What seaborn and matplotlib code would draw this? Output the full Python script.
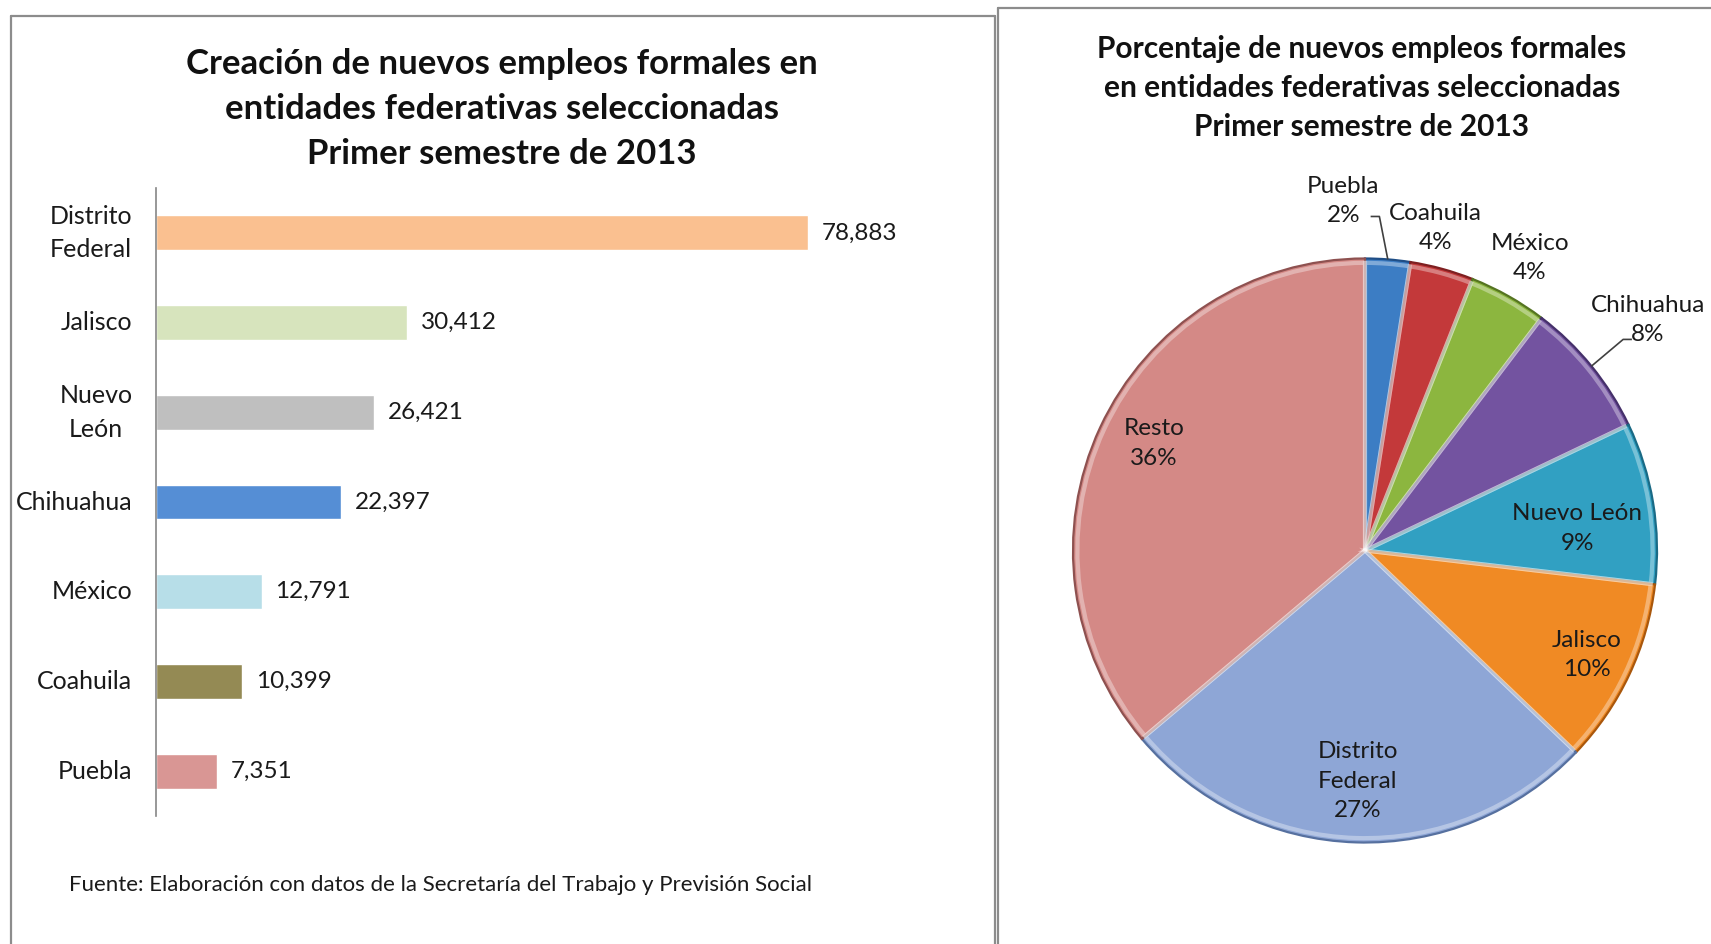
import numpy as np
import matplotlib
matplotlib.use("Agg")
import matplotlib.pyplot as plt
import seaborn as sns
from matplotlib.lines import Line2D

# -----------------------------------------------------------------------------
# Data
# -----------------------------------------------------------------------------
states = ["Distrito\nFederal", "Jalisco", "Nuevo\nLeón", "Chihuahua",
          "México", "Coahuila", "Puebla"]
jobs = [78883, 30412, 26421, 22397, 12791, 10399, 7351]
bar_colors = ["#FAC090", "#D7E4BD", "#BFBFBF", "#558ED5",
              "#B7DEE8", "#948A54", "#D99694"]

pie_names = ["Puebla", "Coahuila", "México", "Chihuahua", "Nuevo León",
             "Jalisco", "Distrito\nFederal", "Resto"]
pie_values = [7351, 10399, 12791, 22397, 26421, 30412, 78883, 106846]
pie_colors = ["#3C7DC4", "#C3393A", "#8CB63F", "#7353A0", "#31A0C2",
              "#F08A24", "#8EA6D6", "#D48986"]
pie_edges = ["#1F4E86", "#7E1F20", "#557421", "#45306A", "#1A6A85",
             "#A9570C", "#56709F", "#8E5150"]

title_left = "Creación de nuevos empleos formales en\nentidades federativas seleccionadas\nPrimer semestre de 2013"
title_right = "Porcentaje de nuevos empleos formales\nen entidades federativas seleccionadas\nPrimer semestre de 2013"
source = "Fuente: Elaboración con datos de la Secretaría del Trabajo y Previsión Social"

# -----------------------------------------------------------------------------
# Figure
# -----------------------------------------------------------------------------
sns.set_style("white")
plt.rcParams["font.family"] = ["Lato", "DejaVu Sans"]

W, H = 1711, 944
fig = plt.figure(figsize=(W / 100, H / 100), dpi=100)


def fx(px):
    return px / W


def fy(py):
    return 1 - py / H


# panel frames
frame_kw = dict(color="#8C8C8C", lw=1.6, transform=fig.transFigure)
fig.add_artist(Line2D([fx(11), fx(11)], [fy(16), 0], **frame_kw))
fig.add_artist(Line2D([fx(11), fx(995)], [fy(16), fy(16)], **frame_kw))
fig.add_artist(Line2D([fx(995), fx(995)], [fy(16), 0], **frame_kw))
fig.add_artist(Line2D([fx(998), fx(998)], [fy(8), 0], **frame_kw))
fig.add_artist(Line2D([fx(998), 1], [fy(8), fy(8)], **frame_kw))

# -----------------------------------------------------------------------------
# Left: horizontal bar chart
# -----------------------------------------------------------------------------
ax = fig.add_axes([fx(156), fy(816), fx(826), (816 - 188) / H])
sns.barplot(x=jobs, y=states, hue=states, palette=bar_colors, legend=False,
            orient="h", width=0.39, saturation=1, ax=ax)
ax.set_xlim(0, 100000)
ax.set_ylim(6.5, -0.5)
ax.set_xlabel("")
ax.set_ylabel("")
ax.set_xticks([])
for s in ["top", "right", "bottom"]:
    ax.spines[s].set_visible(False)
ax.spines["left"].set_color("#868686")
ax.spines["left"].set_linewidth(1.2)
ax.tick_params(axis="y", length=0, pad=17, labelsize=18, labelcolor="#1a1a1a")
for lbl in ax.get_yticklabels():
    lbl.set_multialignment("center")
    lbl.set_linespacing(1.55)
    lbl.set_verticalalignment("center")

for cont in ax.containers:
    vals = [int(round(b.get_width())) for b in cont]
    ax.bar_label(cont, labels=[f"{v:,}" for v in vals], padding=10,
                 fontsize=17.5, color="#1a1a1a")

fig.text(fx(502), fy(109), title_left, ha="center", va="center",
         fontsize=25, fontweight="bold", linespacing=1.5, color="#111111")
fig.text(fx(69), fy(885), source, ha="left", va="center",
         fontsize=16, color="#1a1a1a")

# -----------------------------------------------------------------------------
# Right: pie chart
# -----------------------------------------------------------------------------
R_PX = 292
cx, cy = 1365, 550.5
lim = 1.3
pax = fig.add_axes([fx(cx - lim * R_PX), fy(cy + lim * R_PX),
                    fx(2 * lim * R_PX), 2 * lim * R_PX / H])
wedges, _ = pax.pie(pie_values, colors=pie_colors, startangle=90,
                    counterclock=False, radius=1,
                    wedgeprops=dict(linewidth=1.6))
for w, ec in zip(wedges, pie_edges):
    w.set_edgecolor(ec)
# soft bevel highlight just inside each slice
pax.pie(pie_values, colors=["none"] * len(pie_values), startangle=90,
        counterclock=False, radius=0.985,
        wedgeprops=dict(linewidth=3, edgecolor=(1, 1, 1, 0.35), fill=False))
pax.set_xlim(-lim, lim)
pax.set_ylim(-lim, lim)
pax.axis("off")

total = sum(pie_values)
# label placement: radius factor and angle offset (deg) relative to mid-angle
label_r = [1.20, 1.13, 1.15, 1.25, 0.73, 0.84, 0.79, 0.81]
label_dt = [8, 3, 0, 0, -3.5, 0, 0, -2]
leader_dt = [2, None, None, 0, None, None, None, None]

for w, name, v, r, dt, ldt in zip(wedges, pie_names, pie_values,
                                  label_r, label_dt, leader_dt):
    mid = np.deg2rad((w.theta1 + w.theta2) / 2)
    ang = mid + np.deg2rad(dt)
    tx, ty = r * np.cos(ang), r * np.sin(ang)
    pax.text(tx, ty, f"{name}\n{v / total * 100:.0f}%", ha="center",
             va="center", fontsize=17.5, color="#1a1a1a", linespacing=1.5)
    if ldt is not None:
        x0, y0 = np.cos(mid), np.sin(mid)
        ea = mid + np.deg2rad(ldt)
        x1, y1 = 1.14 * np.cos(ea), 1.145 * np.sin(ea)
        side = -1 if tx < x1 else 1
        pax.plot([x0, x1, x1 + side * 0.03], [y0, y1, y1],
                 color="#404040", lw=1.2, solid_capstyle="butt")

fig.text(fx(1362), fy(88), title_right, ha="center", va="center",
         fontsize=21.5, fontweight="bold", linespacing=1.48, color="#111111")

fig.savefig("out.png", dpi=100)
